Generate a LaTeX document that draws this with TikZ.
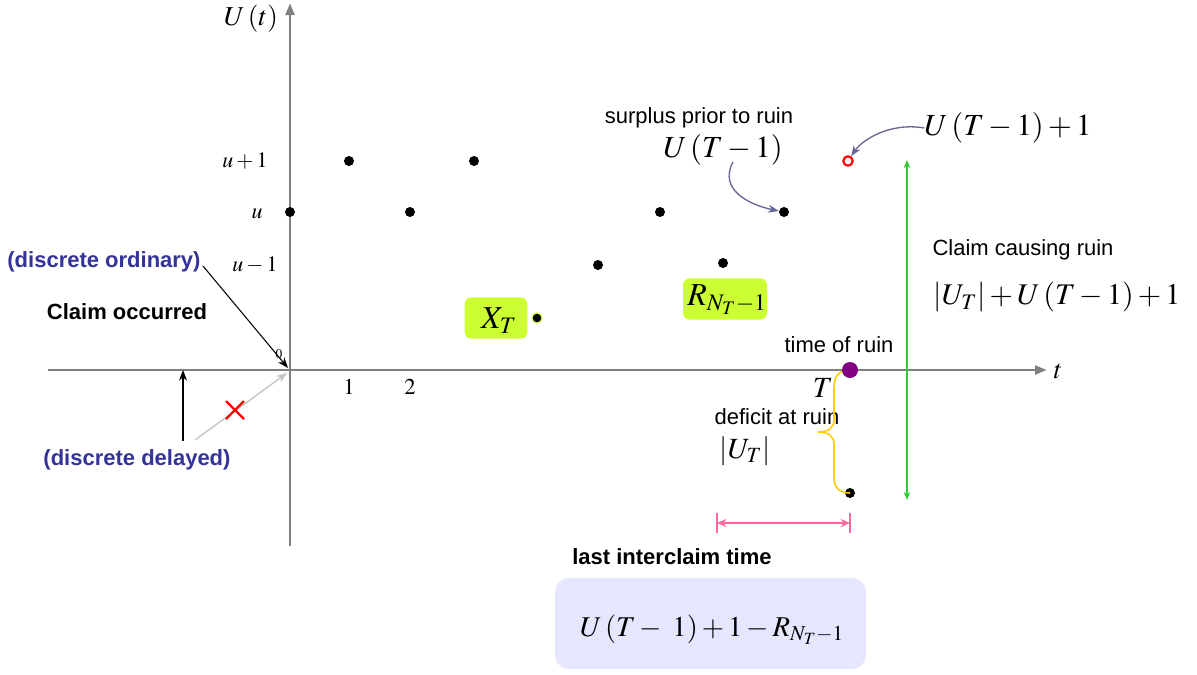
\documentclass[tikz,border=0pt]{standalone}
\usepackage{mathptmx}
\usepackage{fontspec}
\setmainfont{Liberation Sans}
\usetikzlibrary{arrows.meta,decorations.pathreplacing,calc}
\definecolor{axisgray}{RGB}{128,128,128}
\definecolor{navytxt}{RGB}{51,51,153}
\definecolor{limebox}{RGB}{204,255,51}
\definecolor{lavbox}{RGB}{230,230,255}
\definecolor{slatearrow}{RGB}{102,102,153}
\definecolor{goldbrace}{RGB}{255,204,0}
\definecolor{pinkdim}{RGB}{255,102,153}
\definecolor{greendim}{RGB}{51,204,51}
\definecolor{ruinpurple}{RGB}{128,0,128}
\definecolor{lightgrayarrow}{RGB}{195,195,195}
\begin{document}
\begin{tikzpicture}[x=0.75pt,y=-0.75pt,
  axis/.style={draw=axisgray,line width=2.2pt},
  dotnode/.style={circle,fill=black,inner sep=0pt,minimum size=7.5pt},
  txt/.style={inner sep=0pt,font=\fontsize{16.5}{19}\selectfont},
  btxt/.style={inner sep=0pt,font=\fontsize{16.5}{19}\selectfont\bfseries},
  bluetxt/.style={btxt,text=navytxt},
  mth/.style={inner sep=0pt,font=\fontsize{#1}{#1}\selectfont},
  mth/.default=16,
  limenode/.style={fill=limebox,rounded corners=5pt,inner sep=0pt},
  slatearr/.style={draw=slatearrow,line width=1pt,-{Stealth[length=8pt,width=6pt]}}
]
\useasboundingbox (0,0) rectangle (1197,675);

% axes
\coordinate (xstart) at (48,370);
\coordinate (xend) at (1047,370);
\coordinate (ybot) at (290,546);
\coordinate (ytop) at (290,3);
\coordinate (O) at (290,370);
\draw[axis,-{Triangle[length=9pt,width=6.5pt]}] (xstart) -- (xend);
\draw[axis,-{Triangle[length=9pt,width=6.5pt]}] (ybot) -- (ytop);

% axis labels
\node[mth=20.5] (Ut) at (251,19) {$U\,(t)$};
\node[mth=20] (tlab) at (1058,371) {$t$};
\node[mth=16.5] (up1) at (245,161) {$u+1$};
\node[mth=16.5] (ulab) at (257,214) {$u$};
\node[mth=16.5] (um1) at (255,265) {$u-1$};
\node[mth=10] (zero) at (279,354) {$0$};
\node[mth=17] (one) at (349,387) {$1$};
\node[mth=17] (two) at (410,387) {$2$};
\node[mth=22] (Tlab) at (823,388) {$T$};

% dots
\node[dotnode] (d1) at (349,161) {};
\node[dotnode] (d2) at (474,161) {};
\node[dotnode] (d3) at (290,212) {};
\node[dotnode] (d4) at (410,212) {};
\node[dotnode] (d5) at (660,212) {};
\node[dotnode] (d6) at (784,212) {};
\node[dotnode] (d7) at (598,265) {};
\node[dotnode] (d8) at (723,263) {};
\node[circle,fill=black,draw=limebox,line width=0.8pt,inner sep=0pt,minimum size=7.5pt] (d9) at (537,318) {};
\node[dotnode] (dlow) at (850,493) {};
\node[circle,draw=red,line width=1.6pt,fill=white,inner sep=0pt,minimum size=7pt] (redc) at (848,161) {};

% lime boxes
\node[limenode,minimum width=47pt,minimum height=31pt] (XT) at (496,318) {};
\node[mth=24] at (499,321) {$X_{T}$};
\node[limenode,minimum width=63pt,minimum height=31pt] (RN) at (725,299) {};
\node[mth=24] at (727,300) {$R_{N_T-1}$};

% left annotations
\node[bluetxt] (dord) at (104,262) {(discrete ordinary)};
\node[btxt] (claimocc) at (127,312) {Claim occurred};
\node[bluetxt] (ddel) at (137,460) {(discrete delayed)};
\coordinate (ordstart) at (203,266);
\coordinate (ordend) at (288,368);
\draw[black,line width=0.8pt,-{Stealth[length=8pt,width=6pt]}] (ordstart) -- (ordend);
\coordinate (delA) at (183,441);
\coordinate (delB) at (183,370);
\draw[black,line width=0.8pt,-{Stealth[length=8pt,width=6pt]}] (delA) -- (delB);
\coordinate (grayA) at (195,440);
\coordinate (grayB) at (287,373);
\draw[lightgrayarrow,line width=1pt,-{Stealth[length=8pt,width=6pt]}] (grayA) -- (grayB);
\node[inner sep=0pt] (cross) at (235,410) {};
\draw[red,line width=1.6pt] ($(cross)+(-9,-9)$) -- ($(cross)+(9,9)$);
\draw[red,line width=1.6pt] ($(cross)+(-9,9)$) -- ($(cross)+(9,-9)$);

% surplus prior to ruin
\node[txt] (surp) at (699,118) {surplus prior to ruin};
\node[mth=23] (UT1) at (723,150) {$U\,(T-1)$};
\coordinate (sA) at (733,162);
\draw[slatearr] (sA) .. controls (718,190) and (750,205) .. (d6);

% U(T-1)+1
\node[mth=23] (UT1p) at (1008,128) {$U\,(T-1)+1$};
\draw[slatearr] (UT1p.west) .. controls (890,122) and (862,140) .. (redc);

% green dimension
\coordinate (gtop) at (907,160);
\coordinate (gbot) at (907,500);
\draw[greendim,line width=0.9pt,{Stealth[length=6pt,width=5pt]}-{Stealth[length=6pt,width=5pt]}] (gtop) -- (gbot);

\node[txt] (ccr) at (1023,250) {Claim causing ruin};
\node[mth=22.5] (ccrf) at (1057,297) {$\left|U_{T}\right|+U\,(T-1)+1$};

% time of ruin & deficit
\node[txt] (tor) at (839,345) {time of ruin};
\node[txt] (dar) at (777,417) {deficit at ruin};
\node[mth=22] (absUT) at (745,451) {$\left|U_{T}\right|$};
\coordinate (ruinc) at (850,370);
\draw[goldbrace,line width=1.2pt]
  (ruinc) .. controls (839,370) and (834,376) .. (834,388)
  -- (834,420) .. controls (834,428) and (828,432) .. (818,432)
  .. controls (828,432) and (834,436) .. (834,444)
  -- (834,478) .. controls (834,488) and (840,493) .. (dlow.center);
\node[circle,fill=ruinpurple,inner sep=0pt,minimum size=12pt] (ruin) at (ruinc) {};

% pink dimension
\coordinate (pA) at (717,523);
\coordinate (pB) at (850,523);
\draw[pinkdim,line width=1.2pt,{Stealth[length=7pt,width=6pt]}-{Stealth[length=7pt,width=6pt]}] (pA) -- (pB);
\draw[pinkdim,line width=1.2pt] ($(pA)+(0,-10)$) -- ($(pA)+(0,10)$);
\draw[pinkdim,line width=1.2pt] ($(pB)+(0,-10)$) -- ($(pB)+(0,10)$);

% last interclaim time
\node[btxt] (lit) at (672,557) {last interclaim time};
\node[fill=lavbox,rounded corners=10pt,minimum width=233pt,minimum height=68pt,inner sep=0pt] (lav) at (710.5,623.5) {};
\node[mth=21.5] (litf) at (712,630) {$U\,(T-\;1)+1-R_{N_T-1}$};
\end{tikzpicture}
\end{document}
